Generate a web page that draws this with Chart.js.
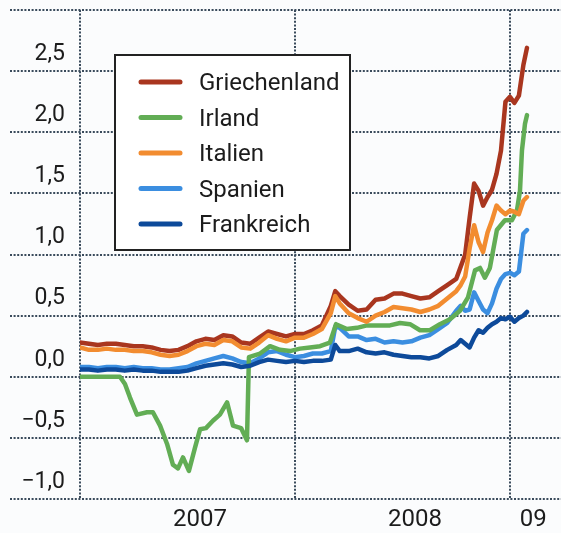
<!DOCTYPE html>
<html><head><meta charset="utf-8">
<script src="https://cdn.jsdelivr.net/npm/chart.js@4.4.1/dist/chart.umd.min.js"></script>
<style>html,body{margin:0;padding:0;background:#fbfcfd;} canvas{display:block;}</style>
</head><body>
<canvas id="c" width="561" height="533"></canvas>
<script>
// ---- data (x in months since January 2007) ----
const seriesNames = ['Griechenland','Irland','Italien','Spanien','Frankreich'];
const months = [0,0.5,1,1.5,2,2.5,3,3.5,4,4.5,5,5.5,6,6.5,7,7.5,8,8.5,9,9.5,10,10.5,11,11.5,12,12.5,13,13.5,14,14.25,14.5,15,15.5,16,16.5,17,17.5,18,18.5,19,19.5,20,20.5,21,21.25,21.5,21.75,22,22.25,22.5,22.75,23,23.25,23.5,23.75,24,24.25,24.5,24.75,24.95];
const griechenland = [0.28,0.27,0.26,0.27,0.27,0.26,0.25,0.25,0.24,0.22,0.21,0.22,0.25,0.29,0.31,0.30,0.34,0.33,0.28,0.27,0.32,0.37,0.35,0.33,0.35,0.35,0.38,0.42,0.58,0.70,0.66,0.59,0.54,0.55,0.63,0.64,0.68,0.68,0.66,0.64,0.65,0.70,0.75,0.80,0.90,1.00,1.30,1.58,1.52,1.40,1.47,1.53,1.66,1.85,2.25,2.29,2.24,2.30,2.55,2.69];
const italien = [0.24,0.22,0.22,0.23,0.22,0.22,0.21,0.21,0.20,0.18,0.17,0.18,0.21,0.25,0.27,0.26,0.30,0.29,0.24,0.23,0.28,0.34,0.31,0.29,0.32,0.32,0.35,0.39,0.52,0.66,0.60,0.52,0.48,0.45,0.50,0.53,0.57,0.56,0.55,0.53,0.55,0.58,0.64,0.70,0.75,0.82,1.05,1.24,1.10,1.02,1.18,1.28,1.40,1.36,1.33,1.36,1.35,1.33,1.44,1.47];
const spanien = [0.08,0.08,0.07,0.08,0.08,0.07,0.08,0.07,0.07,0.06,0.06,0.07,0.08,0.11,0.13,0.15,0.17,0.15,0.12,0.11,0.15,0.20,0.21,0.18,0.16,0.17,0.19,0.19,0.21,0.41,0.40,0.33,0.33,0.30,0.31,0.28,0.29,0.28,0.29,0.32,0.34,0.39,0.44,0.54,0.58,0.54,0.55,0.69,0.62,0.55,0.52,0.60,0.72,0.80,0.84,0.85,0.83,0.86,1.17,1.20];
const frankreich = [0.06,0.06,0.05,0.06,0.06,0.05,0.06,0.05,0.05,0.04,0.04,0.04,0.05,0.07,0.09,0.10,0.11,0.10,0.08,0.09,0.12,0.14,0.13,0.12,0.13,0.12,0.13,0.13,0.14,0.26,0.21,0.21,0.23,0.20,0.19,0.20,0.18,0.17,0.16,0.16,0.15,0.17,0.22,0.26,0.30,0.27,0.24,0.32,0.38,0.36,0.40,0.43,0.45,0.48,0.47,0.49,0.45,0.48,0.50,0.53];
const irlandMonths = [0,2.23,2.51,2.79,3.18,3.74,4.07,4.47,4.86,5.19,5.47,5.75,6.08,6.42,6.70,7.03,7.42,7.81,8.21,8.54,8.99,9.32,9.43,10.05,10.61,11.16,11.72,12.28,12.84,13.40,13.95,14.29,14.90,15.46,16.02,16.74,17.30,17.86,18.42,18.98,19.53,20.09,20.65,21.21,21.66,22.05,22.33,22.60,22.88,23.27,23.72,24.11,24.39,24.56,24.67,24.84,24.95];
const irland = [0,0,-0.06,-0.17,-0.31,-0.29,-0.29,-0.40,-0.55,-0.72,-0.75,-0.66,-0.77,-0.58,-0.43,-0.42,-0.36,-0.31,-0.21,-0.40,-0.42,-0.52,0.16,0.19,0.25,0.22,0.21,0.23,0.24,0.25,0.28,0.43,0.39,0.40,0.42,0.42,0.42,0.44,0.43,0.38,0.38,0.43,0.47,0.54,0.65,0.87,0.89,0.81,0.89,1.20,1.28,1.28,1.36,1.52,1.85,2.07,2.14];
const yTickValues = [-1,-0.5,0,0.5,1,1.5,2,2.5,3];
const yTickLabels = ['\u22121,0','\u22120,5','0,0','0,5','1,0','1,5','2,0','2,5',''];
const xTickLabels = ['2007','2008','09'];
const xLabelAt = [6.7,18.7,25.3];
const yearStarts = [0,12,24];

// ---- styles ----
const FONT = "Roboto,'Open Sans',sans-serif";
const TEXT = '#1c1c1c';
const GRID = '#3a4b5c';
const colors = ['#a9361f','#62ad55','#f28c30','#3b8ee0','#0d4a9a'];
const z = [5,3,2,4,1];

const pts = (xs, ys) => xs.map((m,i)=>({x:m,y:ys[i]}));
const seriesData = [pts(months,griechenland), pts(irlandMonths,irland), pts(months,italien), pts(months,spanien), pts(months,frankreich)];

const gridPlugin = {
  id:'dottedGrid',
  beforeDatasetsDraw(chart){
    const {ctx, chartArea:a, scales:{x,y}} = chart;
    ctx.save();
    ctx.strokeStyle = GRID; ctx.lineWidth = 2; ctx.setLineDash([2,1.6]);
    y.ticks.forEach(t=>{
      const py = Math.round(y.getPixelForValue(t.value));
      ctx.beginPath(); ctx.moveTo(10,py); ctx.lineTo(a.right,py); ctx.stroke();
    });
    yearStarts.forEach(m=>{
      const px = Math.round(x.getPixelForValue(m));
      ctx.beginPath(); ctx.moveTo(px,a.top); ctx.lineTo(px,a.bottom); ctx.stroke();
    });
    ctx.restore();
  }
};
const legendPlugin = {
  id:'boxLegend',
  afterDatasetsDraw(chart){
    const ctx = chart.ctx;
    ctx.save();
    ctx.fillStyle = '#ffffff'; ctx.fillRect(115,55,235,195);
    ctx.strokeStyle = '#222'; ctx.lineWidth = 2; ctx.strokeRect(115,55,235,195);
    chart.data.datasets.forEach((ds,i)=>{
      const yy = 82 + i*35.5;
      ctx.strokeStyle = ds.borderColor; ctx.lineWidth = 5; ctx.lineCap = 'round';
      ctx.beginPath(); ctx.moveTo(141,yy); ctx.lineTo(180,yy); ctx.stroke();
      ctx.fillStyle = TEXT; ctx.font = '24px ' + FONT; ctx.textBaseline = 'middle';
      ctx.fillText(ds.label, 199, yy + 2);
    });
    ctx.restore();
  }
};

new Chart(document.getElementById('c'), {
  type:'line',
  data:{ datasets: seriesNames.map((n,i)=>({label:n, data:seriesData[i], borderColor:colors[i], backgroundColor:colors[i], order:z[i], fill:false})) },
  options:{
    responsive:false, devicePixelRatio:1, animation:false,
    layout:{padding:{top:10,left:0,right:0,bottom:0}},
    plugins:{legend:{display:false}, tooltip:{enabled:false}},
    elements:{point:{radius:0}, line:{borderWidth:4.5, tension:0, borderJoinStyle:'round', borderCapStyle:'round'}},
    scales:{
      x:{type:'linear', min:0, max:26.85, grid:{display:false, drawTicks:false}, border:{display:false},
         afterBuildTicks:s=>{ s.ticks = xLabelAt.map(v=>({value:v})); },
         ticks:{callback:(v,i)=>xTickLabels[i], font:{family:FONT,size:24}, color:TEXT, padding:7, maxRotation:0, autoSkip:false},
         afterFit:s=>{ s.height = 34; s.paddingLeft = 0; s.paddingRight = 0; }},
      y:{type:'linear', min:-1, max:3, grid:{display:false, drawTicks:false}, border:{display:false},
         afterBuildTicks:s=>{ s.ticks = yTickValues.map(v=>({value:v})); },
         ticks:{callback:(v,i)=>yTickLabels[i], font:{family:FONT,size:23}, color:TEXT, padding:15, labelOffset:-17, autoSkip:false},
         afterFit:s=>{ s.width = 80; s.paddingTop = 0; s.paddingBottom = 0; }}
    }
  },
  plugins:[gridPlugin, legendPlugin]
});
</script>
</body></html>
